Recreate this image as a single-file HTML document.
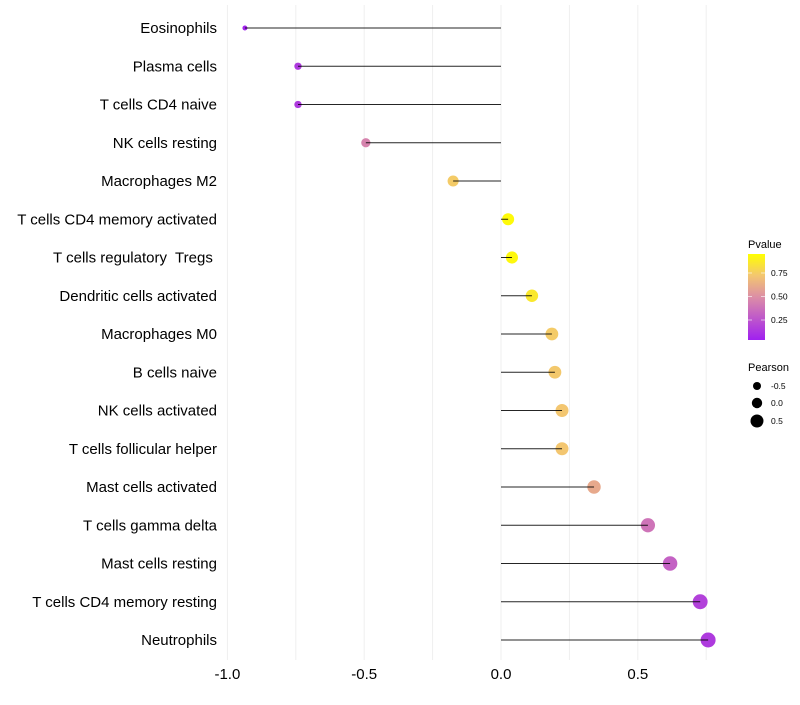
<!DOCTYPE html>
<html><head><meta charset="utf-8"><style>
body{margin:0;background:#fff;font-family:"Liberation Sans",sans-serif}
</style></head><body>
<svg id="chart" width="800" height="700" xmlns="http://www.w3.org/2000/svg" font-family="Liberation Sans, sans-serif"></svg>
<script>
const categories=["Eosinophils","Plasma cells","T cells CD4 naive","NK cells resting","Macrophages M2","T cells CD4 memory activated","T cells regulatory  Tregs ","Dendritic cells activated","Macrophages M0","B cells naive","NK cells activated","T cells follicular helper","Mast cells activated","T cells gamma delta","Mast cells resting","T cells CD4 memory resting","Neutrophils"];
const pearson=[-0.936,-0.742,-0.742,-0.494,-0.175,0.026,0.04,0.113,0.186,0.197,0.223,0.223,0.34,0.537,0.618,0.728,0.757];
const pvalues=[0.02,0.12,0.12,0.45,0.77,0.98,0.97,0.9,0.77,0.76,0.75,0.75,0.62,0.38,0.3,0.15,0.12];
const xTicks=[-1,-0.5,0,0.5];
const xTickLabels=["-1.0","-0.5","0.0","0.5"];
const NS="http://www.w3.org/2000/svg";
const svg=document.getElementById('chart');
const x=v=>501+v*273.6;
const y=i=>28+i*38.25;
const r=v=>1.3+6.2*Math.sqrt(Math.max(0,v+1)/1.76);
const stops=[[0,[160,32,240]],[0.5,[220,142,166]],[0.75,[243,198,112]],[1,[255,255,0]]];
function col(p){for(let k=1;k<stops.length;k++){if(p<=stops[k][0]){const a=stops[k-1],b=stops[k];const t=(p-a[0])/(b[0]-a[0]);
 return `rgb(${a[1].map((c,j)=>Math.round(c+(b[1][j]-c)*t))})`;}}return 'rgb(255,255,0)';}
function mk(t,a,txt){const e=document.createElementNS(NS,t);for(const k in a)e.setAttribute(k,a[k]);if(txt!==undefined)e.textContent=txt;svg.appendChild(e);return e;}
[-1,-0.75,-0.5,-0.25,0,0.25,0.5,0.75].forEach(v=>{const g=mk('line',{x1:x(v),x2:x(v),y1:5,y2:660,stroke:'#efefef','stroke-width':1});

});
xTicks.forEach((v,i)=>{const l=mk('text',{x:x(v),y:679,'text-anchor':'middle','font-size':15,fill:'#000'},xTickLabels[i]);

});
categories.forEach((c,i)=>{const l=mk('text',{x:217,y:y(i)+5,'text-anchor':'end','font-size':15,fill:'#000','xml:space':'preserve'},c);
l.style.whiteSpace='pre';


const p=mk('circle',{cx:x(pearson[i]),cy:y(i),r:r(pearson[i]),fill:col(pvalues[i])});


const s=mk('line',{x1:x(0),x2:x(pearson[i]),y1:y(i),y2:y(i),stroke:'#000','stroke-width':1,opacity:0.85});

});
</script>
<svg style="position:absolute;left:0;top:0" width="800" height="700">
<defs><linearGradient id="g" x1="0" y1="1" x2="0" y2="0"><stop offset="0" stop-color="#a020f0"/><stop offset="0.5" stop-color="#dc8ea6"/><stop offset="0.75" stop-color="#f3c670"/><stop offset="1" stop-color="#ffff00"/></linearGradient></defs>
<text x="748" y="248" font-size="11">Pvalue</text>
<rect x="748" y="254" width="17" height="86" fill="url(#g)"/>
<g font-size="8.5"><text x="771" y="276">0.75</text><text x="771" y="299.5">0.50</text><text x="771" y="323">0.25</text></g>
<g stroke="#fff" stroke-width="1" opacity="0.6"><line x1="748" x2="752" y1="273" y2="273"/><line x1="761" x2="765" y1="273" y2="273"/><line x1="748" x2="752" y1="296.5" y2="296.5"/><line x1="761" x2="765" y1="296.5" y2="296.5"/><line x1="748" x2="752" y1="320" y2="320"/><line x1="761" x2="765" y1="320" y2="320"/></g>
<text x="748" y="371" font-size="11">Pearson</text>
<circle cx="757" cy="386" r="4"/>
<circle cx="757" cy="403" r="5.2"/>
<circle cx="757" cy="421" r="6.5"/>
<g font-size="8.5"><text x="771" y="389">-0.5</text><text x="771" y="406">0.0</text><text x="771" y="424">0.5</text></g>
</svg>
</body></html>
